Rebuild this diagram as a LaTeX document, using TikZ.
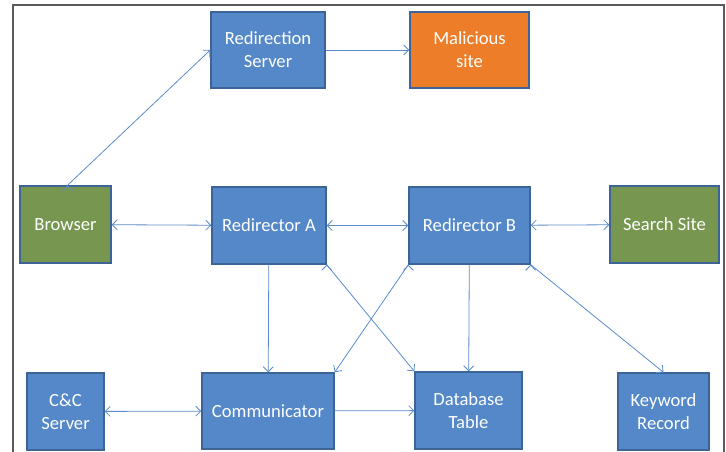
\documentclass[tikz,border=0pt]{standalone}
\usepackage{fontspec}
\setmainfont{Carlito}
\usetikzlibrary{arrows.meta}

\definecolor{boxblue}{RGB}{84,136,200}
\definecolor{boxedge}{RGB}{60,100,150}
\definecolor{boxgreen}{RGB}{119,150,80}
\definecolor{boxorange}{RGB}{237,125,40}
\definecolor{linkblue}{RGB}{90,140,205}
\definecolor{framegray}{RGB}{90,90,90}

\begin{document}
\begin{tikzpicture}[x=1pt, y=-1pt, thick,
    main node/.style={rectangle, draw=boxedge, line width=1.4pt, fill=boxblue, text=white, align=center, inner sep=0pt, font=\fontsize{18.6}{23}\selectfont},
    green node/.style={main node, fill=boxgreen},
    orange node/.style={main node, fill=boxorange},
    link/.style={draw=linkblue, line width=0.8pt, >={Straight Barb[length=5pt,width=10pt]}}]

                \useasboundingbox (0,0) rectangle (726,452);
                \draw[framegray, line width=1.5pt] (13,452) -- (13,5) -- (724,5) -- (724,452);

                \node[main node, minimum width=114, minimum height=76] at (268, 50) (redir) {Redirection\\Server};
                \node[orange node, minimum width=119, minimum height=76] at (469.5, 50) (malicious) {Malicious\\site};
                \node[green node, minimum width=91, minimum height=77] at (65.5, 224.5) (browser) {Browser};
                \node[main node, minimum width=114, minimum height=77] at (269, 225.5) (ra) {Redirector A};
                \node[main node, minimum width=121, minimum height=77] at (469.5, 225.5) (rb) {Redirector B};
                \node[green node, minimum width=109, minimum height=77] at (664.5, 224.5) (search) {Search Site};
                \node[main node, minimum width=77, minimum height=77] at (65.5, 411.5) (cc) {C\&C\\Server};
                \node[main node, minimum width=132, minimum height=76] at (268, 411) (comm) {Communicator};
                \node[main node, minimum width=107, minimum height=77] at (468.5, 410.5) (db) {Database\\Table};
                \node[main node, minimum width=91, minimum height=77] at (663.5, 411.5) (keyword) {Keyword\\Record};

                \path[link, ->] ([xshift=2pt]browser.north) edge (redir.west);
                \path[link, ->] (redir) edge (malicious);
                \path[link, <->] (browser) edge (ra);
                \path[link, <->] (ra) edge (rb);
                \path[link, <->] (rb) edge (search);
                \path[link, ->] (ra) edge (comm);
                \path[link, ->] (ra.south east) edge (db.north west);
                \path[link, ->] (rb.south west) edge (comm.north east);
                \path[link, ->] (rb) edge (db);
                \path[link, ->] (rb.south east) edge (keyword.north);
                \path[link, <->] (cc) edge (comm);
                \path[link, ->] (comm) edge (db);
            \end{tikzpicture}
\end{document}
